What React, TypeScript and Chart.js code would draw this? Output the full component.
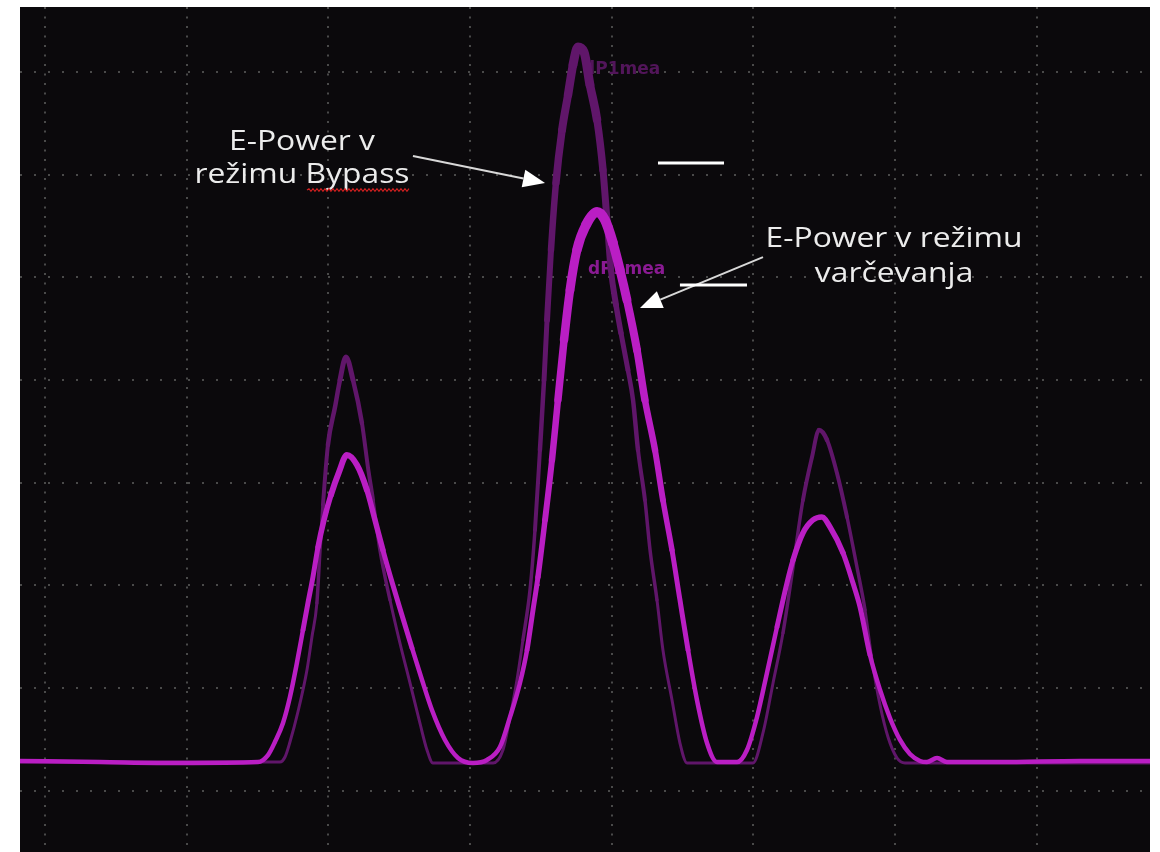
import React, { useEffect, useRef } from 'react';
import { Chart, registerables } from 'chart.js';

Chart.register(...registerables);

// Grid divisions of the oscilloscope screen
const xGridValues = [0, 1, 2, 3, 4, 5, 6, 7];
const yGridValues = [0, 1, 2, 3, 4, 5, 6, 7];

// E-Power v režimu varčevanja (bright trace), x/y in divisions
const savingX = [
  -0.176, 0.388, 0.953, 1.503, 1.574, 1.623, 1.680, 1.729, 1.778, 1.821, 1.856, 1.891, 1.927, 1.969, 2.018, 2.075,
  2.131, 2.202, 2.272, 2.329, 2.385, 2.449, 2.519, 2.590, 2.661, 2.731, 2.823, 2.915, 3.020, 3.119, 3.211,
  3.282, 3.352, 3.402, 3.444, 3.479, 3.529, 3.578, 3.620, 3.663, 3.705, 3.754, 3.818, 3.896, 3.952, 4.008, 4.058,
  4.107, 4.178, 4.234, 4.305, 4.361, 4.425, 4.481, 4.538, 4.601, 4.672, 4.742, 4.884, 4.954, 5.025, 5.095, 5.166,
  5.236, 5.279, 5.349, 5.420, 5.483, 5.540, 5.632, 5.702, 5.752, 5.822, 5.893, 5.963, 6.034, 6.104, 6.175, 6.224,
  6.295, 6.365, 6.740, 7.304, 7.798,
];
const savingY = [
  0.291, 0.281, 0.272, 0.281, 0.349, 0.476, 0.661, 0.914, 1.245, 1.567, 1.829, 2.082, 2.375, 2.638, 2.881, 3.105,
  3.270, 3.173, 2.930, 2.638, 2.345, 2.034, 1.713, 1.392, 1.080, 0.788, 0.496, 0.321, 0.272, 0.301, 0.427,
  0.720, 1.051, 1.372, 1.761, 2.082, 2.638, 3.222, 3.807, 4.390, 4.877, 5.267, 5.510, 5.637, 5.559, 5.335, 5.072,
  4.780, 4.293, 3.807, 3.319, 2.832, 2.345, 1.859, 1.372, 0.885, 0.466, 0.281, 0.281, 0.398, 0.720, 1.148, 1.597,
  2.024, 2.248, 2.511, 2.638, 2.667, 2.570, 2.316, 2.024, 1.790, 1.323, 0.983, 0.710, 0.496, 0.359, 0.291, 0.281,
  0.320, 0.281, 0.281, 0.291, 0.291,
];

// E-Power v režimu Bypass (dark trace)
const bypassX = [
  -0.176, 1.658, 1.694, 1.729, 1.785, 1.849, 1.884, 1.919, 1.941, 1.962, 1.997, 2.047, 2.082, 2.124, 2.174, 2.237,
  2.279, 2.315, 2.364, 2.435, 2.505, 2.576, 2.646, 2.696, 2.738, 3.162, 3.232, 3.282, 3.331, 3.373, 3.423, 3.458,
  3.493, 3.522, 3.543, 3.571, 3.606, 3.649, 3.691, 3.726, 3.761, 3.804, 3.846, 3.896, 3.938, 3.966, 3.994, 4.030,
  4.065, 4.114, 4.150, 4.185, 4.234, 4.270, 4.319, 4.361, 4.425, 4.481, 4.531, 4.996, 5.067, 5.138, 5.208, 5.279,
  5.349, 5.413, 5.462, 5.519, 5.589, 5.660, 5.730, 5.787, 5.836, 5.893, 5.949, 6.013, 6.069, 7.798,
];
const bypassY = [
  0.281, 0.281, 0.330, 0.476, 0.768, 1.177, 1.499, 1.829, 2.345, 2.784, 3.368, 3.738, 4.001, 4.225, 4.001, 3.582,
  3.154, 2.832, 2.345, 1.859, 1.440, 1.051, 0.661, 0.398, 0.272, 0.272, 0.398, 0.720, 1.080, 1.469, 1.956, 2.540,
  3.319, 4.001, 4.585, 5.267, 5.920, 6.436, 6.776, 7.068, 7.243, 7.195, 6.874, 6.533, 6.046, 5.559, 5.072, 4.731,
  4.458, 4.098, 3.807, 3.319, 2.832, 2.345, 1.859, 1.372, 0.885, 0.466, 0.272, 0.272, 0.564, 1.051, 1.538, 2.180,
  2.832, 3.251, 3.514, 3.417, 3.095, 2.667, 2.180, 1.761, 1.275, 0.836, 0.525, 0.320, 0.272, 0.272,
];

const labelBypass = ['E-Power v', 'režimu Bypass'];
const labelSaving = ['E-Power v režimu', 'varčevanja'];
const traceTag = 'dP1mea';

const SAVING_COLOR = '#ba1ec4';
const BYPASS_COLOR = '#60166a';
const GRID_COLOR = '#4a4a4a';

function drawArrow(ctx: CanvasRenderingContext2D, x0: number, y0: number, x1: number, y1: number) {
  const ang = Math.atan2(y1 - y0, x1 - x0);
  const L = 22;
  const W = 9;
  const bx = x1 - L * Math.cos(ang);
  const by = y1 - L * Math.sin(ang);
  ctx.strokeStyle = '#d8d8d8';
  ctx.lineWidth = 2;
  ctx.beginPath();
  ctx.moveTo(x0, y0);
  ctx.lineTo(bx, by);
  ctx.stroke();
  ctx.fillStyle = '#ffffff';
  ctx.beginPath();
  ctx.moveTo(x1, y1);
  ctx.lineTo(bx + W * Math.sin(ang), by - W * Math.cos(ang));
  ctx.lineTo(bx - W * Math.sin(ang), by + W * Math.cos(ang));
  ctx.closePath();
  ctx.fill();
}

const overlayPlugin = {
  id: 'overlay',
  beforeDatasetsDraw(chart: any) {
    const { ctx, scales } = chart;
    const x = scales.x;
    const y = scales.y;
    ctx.save();
    ctx.font = 'bold 17px "DejaVu Sans"';
    ctx.textBaseline = 'middle';
    ctx.fillStyle = '#52155a';
    ctx.fillText(traceTag, x.getPixelForValue(3.797), y.getPixelForValue(7.019));
    ctx.fillStyle = '#8a1a93';
    ctx.fillText(traceTag, x.getPixelForValue(3.832), y.getPixelForValue(5.072));
    ctx.restore();
  },
  afterDatasetsDraw(chart: any) {
    const { ctx, scales } = chart;
    const x = scales.x;
    const y = scales.y;
    const px = (v: number) => x.getPixelForValue(v);
    const py = (v: number) => y.getPixelForValue(v);
    ctx.save();

    // text labels
    ctx.font = '500 27px "Open Sans"';
    ctx.fillStyle = '#ececec';
    ctx.textBaseline = 'alphabetic';
    const sx = 215 / ctx.measureText(labelBypass[1]).width;
    const drawCentered = (t: string, cx: number, by: number) => {
      const w = ctx.measureText(t).width;
      ctx.save();
      ctx.translate(cx, by);
      ctx.scale(sx, 1);
      ctx.fillText(t, -w / 2, 0);
      ctx.restore();
    };
    drawCentered(labelBypass[0], px(1.814), py(6.241));
    drawCentered(labelBypass[1], px(1.814), py(5.920));
    drawCentered(labelSaving[0], px(5.992), py(5.295));
    drawCentered(labelSaving[1], px(5.992), py(4.955));

    // red spell-check squiggle under "Bypass"
    ctx.strokeStyle = '#d02020';
    ctx.lineWidth = 1.2;
    ctx.beginPath();
    const sqx0 = px(1.849);
    const sqx1 = px(2.576);
    const sqy = py(5.851);
    let up = true;
    ctx.moveTo(sqx0, sqy);
    for (let xx = sqx0 + 2; xx <= sqx1; xx += 2) {
      ctx.lineTo(xx, sqy + (up ? -1.3 : 1.3));
      up = !up;
    }
    ctx.stroke();

    // arrows
    drawArrow(ctx, px(2.597), py(6.182), px(3.529), py(5.920));
    drawArrow(ctx, px(5.067), py(5.198), px(4.199), py(4.701));

    // white marker bars
    ctx.fillStyle = '#ffffff';
    const bar = (a: number, b: number, v: number) => {
      ctx.fillRect(px(a), py(v) - 1.5, px(b) - px(a), 3);
    };
    bar(4.326, 4.792, 6.114);
    bar(4.481, 4.954, 4.926);

    ctx.restore();
  },
};

export default function App() {
  const ref = useRef<HTMLCanvasElement>(null);

  useEffect(() => {
    const canvas = ref.current;
    if (!canvas) return;
    const savingData = savingX.map((v, i) => ({ x: v, y: savingY[i] }));
    const bypassData = bypassX.map((v, i) => ({ x: v, y: bypassY[i] }));
    const widthFor = (base: number, k: number) => (c: any) => {
      const m = (c.p0.parsed.y + c.p1.parsed.y) / 2;
      const d = Math.max(0, m - 0.3);
      return Math.round((base + k * d * d) * 2) / 2;
    };

    const chart = new Chart(canvas, {
      type: 'line',
      data: {
        datasets: [
          {
            label: 'E-Power v režimu varčevanja',
            data: savingData,
            borderColor: SAVING_COLOR,
            borderWidth: 5,
            pointRadius: 0,
            cubicInterpolationMode: 'monotone',
            borderCapStyle: 'round',
            borderJoinStyle: 'round',
            segment: { borderWidth: widthFor(4.5, 0.2) },
          },
          {
            label: 'E-Power v režimu Bypass',
            data: bypassData,
            borderColor: BYPASS_COLOR,
            borderWidth: 3,
            pointRadius: 0,
            cubicInterpolationMode: 'monotone',
            borderCapStyle: 'round',
            borderJoinStyle: 'round',
            segment: { borderWidth: widthFor(3, 0.13) },
          },
        ],
      } as any,
      options: {
        animation: false,
        responsive: false,
        devicePixelRatio: 1,
        layout: { padding: 0 },
        plugins: {
          legend: { display: false },
          tooltip: { enabled: false },
        },
        scales: {
          x: {
            type: 'linear',
            min: -0.176,
            max: 7.798,
            afterBuildTicks: (s: any) => {
              s.ticks = xGridValues.map((v) => ({ value: v }));
            },
            ticks: { display: false },
            grid: { color: GRID_COLOR, lineWidth: 2, drawTicks: false },
            border: { display: false, dash: [2, 7.5] },
          },
          y: {
            type: 'linear',
            min: -0.595,
            max: 7.633,
            afterBuildTicks: (s: any) => {
              s.ticks = yGridValues.map((v) => ({ value: v }));
            },
            ticks: { display: false },
            grid: { color: GRID_COLOR, lineWidth: 2, drawTicks: false },
            border: { display: false, dash: [2, 12] },
          },
        },
      } as any,
      plugins: [overlayPlugin],
    });
    return () => chart.destroy();
  }, []);

  return (
    <div
      style={{
        position: 'absolute',
        left: 0,
        top: 0,
        width: 1160,
        height: 852,
        background: '#ffffff',
        overflow: 'hidden',
      }}
    >
      <div
        style={{
          position: 'absolute',
          left: 20,
          top: 7,
          width: 1130,
          height: 845,
          background: '#0b090c',
        }}
      >
        <canvas ref={ref} width={1130} height={845} style={{ display: 'block', width: 1130, height: 845 }} />
      </div>
    </div>
  );
}
